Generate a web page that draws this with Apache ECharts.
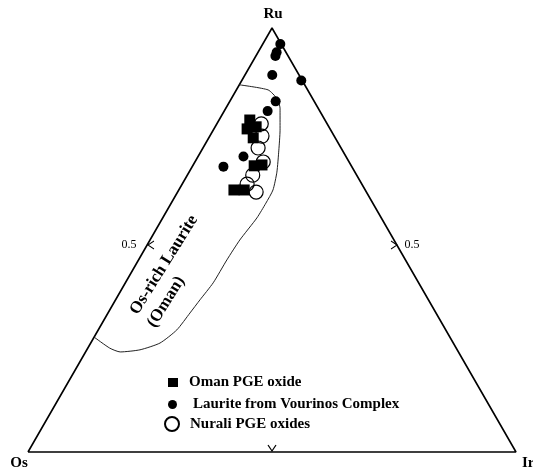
<!DOCTYPE html>
<html><head><meta charset="utf-8">
<script src="https://cdn.jsdelivr.net/npm/echarts@6/dist/echarts.min.js"></script>
<style>html,body{margin:0;padding:0;background:#fff}#c{width:533px;height:469px}</style>
</head><body><div id="c"></div>
<script>
// Ternary diagram Ru (apex) - Os (left) - Ir (right); Os = 1 - Ru - Ir
const vertexLabels = ['Ru', 'Os', 'Ir'];
const tickValues = [0.5];
const tickLabels = ['0.5'];
const seriesNames = ['Oman PGE oxide', 'Laurite from Vourinos Complex', 'Nurali PGE oxides'];

const omanRu = [0.783, 0.762, 0.767, 0.741, 0.675, 0.677, 0.618, 0.618];
const omanIr = [0.063, 0.068, 0.084, 0.091, 0.126, 0.141, 0.113, 0.134];

const vourinosRu = [0.962, 0.943, 0.934, 0.889, 0.876, 0.827, 0.804, 0.697, 0.673];
const vourinosIr = [0.036, 0.038, 0.040, 0.056, 0.122, 0.094, 0.089, 0.093, 0.064];

const nuraliRu = [0.774, 0.745, 0.717, 0.684, 0.653, 0.632, 0.613];
const nuraliIr = [0.091, 0.107, 0.113, 0.140, 0.134, 0.133, 0.161];

// Os-rich laurite (Oman) field boundary
const fieldRu = [0.866, 0.854, 0.833, 0.811, 0.759, 0.712, 0.660, 0.618, 0.587, 0.552, 0.500, 0.453, 0.399, 0.359, 0.328, 0.288, 0.257, 0.241, 0.236, 0.245, 0.271];
const fieldIr = [0.000, 0.065, 0.094, 0.111, 0.137, 0.158, 0.180, 0.193, 0.194, 0.193, 0.184, 0.181, 0.180, 0.173, 0.168, 0.161, 0.142, 0.109, 0.071, 0.045, 0.000];

function toXY(ru, ir) { return [ir + ru / 2, ru]; }
function pts(ruArr, irArr) { return ruArr.map((r, i) => toXY(r, irArr[i])); }

const frame = [toXY(0, 0), toXY(0, 1), toXY(1, 0), toXY(0, 0)];
const t = tickValues[0];
const tickData = [
  { value: toXY(t, 0), symbol: 'path://M6,0 L0,4 L6,8', symbolSize: [6, 8], symbolOffset: [1, 5],
    label: { show: true, position: 'left', distance: 11, formatter: tickLabels[0] } },
  { value: toXY(t, 1 - t), symbol: 'path://M0,0 L6,4 L0,8', symbolSize: [6, 8], symbolOffset: [0, 5],
    label: { show: true, position: 'right', distance: 7, formatter: tickLabels[0] } },
  { value: toXY(0, t), symbol: 'path://M0,0 L4,6 L8,0', symbolSize: [8, 6], symbolOffset: [0, -4],
    label: { show: false } }
];

const serif = '"Liberation Serif", "Times New Roman", serif';
const chart = echarts.init(document.getElementById('c'));
const legendText = { fontFamily: serif, fontWeight: 'bold', fontSize: 15, color: '#000' };
chart.setOption({
  animation: false,
  backgroundColor: '#fff',
  grid: { left: 28, right: 17, top: 28, bottom: 17 },
  xAxis: { type: 'value', min: 0, max: 1, show: false },
  yAxis: { type: 'value', min: 0, max: 1, show: false },
  legend: [
    { data: [seriesNames[0]], left: 168, top: 375, padding: 0, itemWidth: 10, itemHeight: 9, selectedMode: false,
      textStyle: Object.assign({ padding: [0, 0, 0, 6] }, legendText) },
    { data: [seriesNames[1]], left: 168, top: 397, padding: 0, itemWidth: 9, itemHeight: 9, selectedMode: false,
      textStyle: Object.assign({ padding: [0, 0, 0, 11] }, legendText) },
    { data: [seriesNames[2]], left: 164, top: 416, padding: 0, itemWidth: 14, itemHeight: 14, selectedMode: false,
      textStyle: Object.assign({ padding: [0, 0, 0, 6] }, legendText) }
  ],
  graphic: [
    { type: 'text', x: 273, y: 14, style: { text: vertexLabels[0], font: 'bold 15px ' + serif, fill: '#000', textAlign: 'center', textVerticalAlign: 'middle', align: 'center', verticalAlign: 'middle' } },
    { type: 'text', x: 19, y: 463, style: { text: vertexLabels[1], font: 'bold 15px ' + serif, fill: '#000', textAlign: 'center', textVerticalAlign: 'middle', align: 'center', verticalAlign: 'middle' } },
    { type: 'text', x: 522, y: 463, style: { text: vertexLabels[2], font: 'bold 15px ' + serif, fill: '#000', textAlign: 'left', textVerticalAlign: 'middle', align: 'left', verticalAlign: 'middle' } },
    { type: 'text', x: 164, y: 265, rotation: 58 * Math.PI / 180, style: { text: 'Os-rich Laurite', font: 'bold 17px ' + serif, fill: '#000', textAlign: 'center', textVerticalAlign: 'middle', align: 'center', verticalAlign: 'middle' } },
    { type: 'text', x: 166, y: 302, rotation: 58 * Math.PI / 180, style: { text: '(Oman)', font: 'bold 17px ' + serif, fill: '#000', textAlign: 'center', textVerticalAlign: 'middle', align: 'center', verticalAlign: 'middle' } }
  ],
  series: [
    { type: 'line', data: frame, symbol: 'none', silent: true, clip: false,
      lineStyle: { color: '#000', width: 1.6 }, z: 1 },
    { type: 'line', data: pts(fieldRu, fieldIr), symbol: 'none', silent: true, clip: false, smooth: 0.2,
      lineStyle: { color: '#222', width: 1 }, z: 1 },
    { type: 'scatter', data: tickData, silent: true, clip: false, z: 2,
      itemStyle: { color: 'rgba(0,0,0,0)', borderColor: '#000', borderWidth: 1, opacity: 1 },
      label: { color: '#000', fontFamily: serif, fontSize: 12 } },
    { name: seriesNames[2], type: 'scatter', data: pts(nuraliRu, nuraliIr), symbol: 'circle', symbolSize: 14, clip: false, z: 3,
      itemStyle: { color: 'rgba(255,255,255,0)', borderColor: '#000', borderWidth: 1.2, opacity: 1 } },
    { name: seriesNames[0], type: 'scatter', data: pts(omanRu, omanIr), symbol: 'rect', symbolSize: 11, clip: false, z: 4,
      itemStyle: { color: '#000', opacity: 1 } },
    { name: seriesNames[1], type: 'scatter', data: pts(vourinosRu, vourinosIr), symbol: 'circle', symbolSize: 10, clip: false, z: 5,
      itemStyle: { color: '#000', opacity: 1 } }
  ]
});
</script>
</body></html>
